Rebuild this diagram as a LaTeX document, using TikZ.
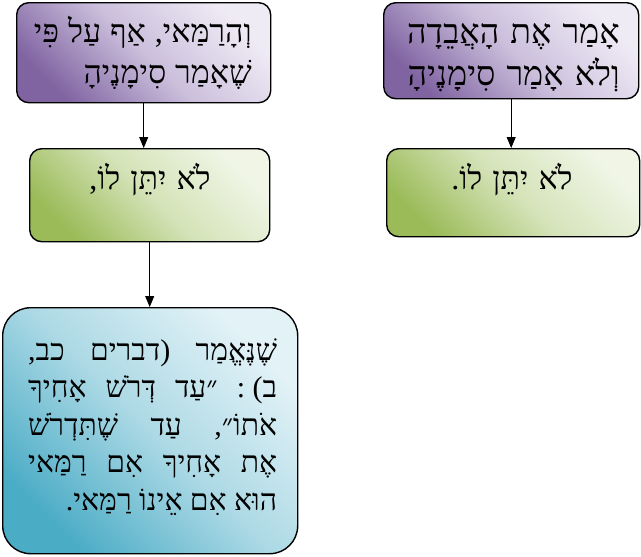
\documentclass[tikz,border=0pt]{standalone}
\usepackage{fontspec}
\usetikzlibrary{arrows.meta}
\newfontfamily\heb[Script=Hebrew]{Liberation Serif}
\TeXXeTstate=1
\newcommand{\RL}[1]{\beginR#1\endR}
\newcommand{\wsp}[1]{\spaceskip=#1pt plus 2pt\relax}
\definecolor{pdark}{HTML}{8064A2}
\definecolor{pmid}{HTML}{CBBFDC}
\definecolor{plight}{HTML}{EFEBF5}
\definecolor{gdark}{HTML}{9BBB59}
\definecolor{gmid}{HTML}{D4E3B8}
\definecolor{glight}{HTML}{F0F5E6}
\definecolor{bdark}{HTML}{4BACC6}
\definecolor{bmid}{HTML}{ACD9E5}
\definecolor{blight}{HTML}{E3F2F7}
\begin{document}
\begin{tikzpicture}[x=1pt,y=-1pt,
  box/.style={draw=black, line width=1.4pt, rounded corners=12pt, inner sep=0pt, anchor=north west},
  pbox/.style={box, top color=plight, bottom color=pdark, middle color=pmid, shading angle=-45},
  gbox/.style={box, top color=glight, bottom color=gdark, middle color=gmid, shading angle=-45},
  bbox/.style={box, rounded corners=28pt, top color=blight, bottom color=bdark, middle color=bmid, shading angle=-45},
  arr/.style={draw=black, line width=0.8pt, -{Triangle[length=11pt,width=9pt]}},
  txt/.style={inner sep=0pt, font=\heb\fontsize{32}{41}\selectfont}
]
\useasboundingbox (0,0) rectangle (641,557);
% boxes
\node[pbox, minimum width=254pt, minimum height=100pt] (pL) at (16,2) {};
\node[pbox, minimum width=255pt, minimum height=96pt] (pR) at (383,2) {};
\node[gbox, minimum width=240pt, minimum height=93pt] (gL) at (29,148) {};
\node[gbox, minimum width=253pt, minimum height=88pt] (gR) at (386,148) {};
\node[bbox, minimum width=295pt, minimum height=246pt] (bB) at (2,307) {};
% texts
\node[txt, anchor=base east] (tpL) at (252,42) {\wsp{9}\vtop{\hbox to 230pt{\hfill\RL{וְהָרַמַּאי, אַף עַל פִּי}}\hbox to 230pt{\hfill\RL{שֶׁאָמַר סִימָנֶיהָ}}}};
\node[txt, anchor=base east, font=\heb\fontsize{34}{42}\selectfont] (tpR) at (620,43) {\wsp{11}\vtop{\hbox to 230pt{\hfill\RL{אָמַר אֶת הָאֲבֵדָה}}\hbox to 230pt{\hfill\RL{וְלֹא אָמַר סִימָנֶיהָ}}}};
\node[txt, anchor=base, font=\heb\fontsize{32}{40}\selectfont] (tgL) at (150,189) {\wsp{10}\RL{לֹא יִתֵּן לוֹ,}};
\node[txt, anchor=base, font=\heb\fontsize{32}{40}\selectfont] (tgR) at (512,189) {\wsp{10}\RL{לֹא יִתֵּן לוֹ.}};
\node[txt, anchor=base west, font=\heb\fontsize{30}{37.5}\selectfont] (tbB) at (28,360) {\vtop{\hsize=249pt
\hbox to\hsize{\RL{שֶׁנֶּאֱמַר\hfill (דברים\hfill כב,}}
\hbox to\hsize{\RL{ב) :\hfill ״עַד\hfill דְּרֹשׁ\hfill אָחִיךָ}}
\hbox to\hsize{\RL{אֹתוֹ״,\hfill עַד\hfill שֶׁתִּדְרֹשׁ}}
\hbox to\hsize{\RL{אֶת\hfill אָחִיךָ\hfill אִם\hfill רַמַּאי}}
\hbox to\hsize{\hfill\RL{הוּא אִם אֵינוֹ רַמַּאי.}}}};
% arrows
\draw[arr] (pL.south) -- (pL.south |- gL.north);
\draw[arr] (pR.south) -- (pR.south |- gR.north);
\draw[arr] (gL.south) -- (gL.south |- bB.north);
\end{tikzpicture}
\end{document}
